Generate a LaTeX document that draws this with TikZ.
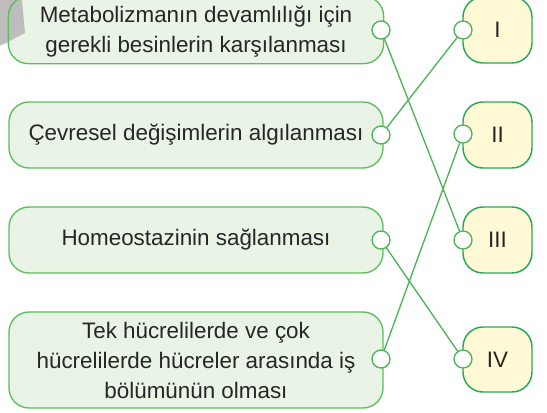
\documentclass[tikz,border=0pt]{standalone}
\usepackage{fontspec}
\setmainfont{Liberation Sans}
\definecolor{lfill}{HTML}{E9F4E7}
\definecolor{lline}{HTML}{5BBD5E}
\definecolor{rfill}{HTML}{FFF9D6}
\definecolor{rline}{HTML}{2AA85A}
\definecolor{conn}{HTML}{4DB455}
\definecolor{greyshape}{HTML}{BDBDBD}
\definecolor{ink}{HTML}{262626}
\begin{document}
\begin{tikzpicture}[x=0.75pt,y=-0.75pt,
  txt/.style={font=\fontsize{16.8}{22.5}\selectfont, text=ink},
  lbox/.style={txt, draw=lline, fill=lfill, line width=1pt, rounded corners=15pt,
    minimum width=280.5pt, minimum height=49.5pt, align=center, inner sep=0pt},
  rbox/.style={txt, draw=rline, fill=rfill, line width=1.1pt, rounded corners=15pt,
    minimum width=51.75pt, minimum height=49.5pt, inner sep=0pt},
  dot/.style={circle, draw=conn, fill=white, line width=1pt, minimum size=13.5pt, inner sep=0pt},
  link/.style={draw=conn, line width=1pt}]
\useasboundingbox (0,0) rectangle (547,412);
\clip (0,0) rectangle (547,412);
% left boxes
\node[lbox, fill=none, draw=none] (L1) at (196,30) {};
\fill[lfill, rounded corners=15pt] (L1.south west) rectangle (L1.north east);
\fill[greyshape] (0,0) -- (22,0) -- (25,33) -- (2,45) -- (0,45) -- cycle;
\draw[draw=lline, line width=1pt, rounded corners=15pt] (L1.south west) rectangle (L1.north east);
\node[txt, align=center] at ([yshift=-1.5pt]L1.center) {Metabolizmanın devamlılığı için\\gerekli besinlerin karşılanması};
\node[lbox] (L2) at (196,135) {Çevresel değişimlerin algılanması};
\node[lbox] (L3) at (196,240) {Homeostazinin sağlanması};
\node[lbox, minimum height=72pt] (L4) at (196,360) {Tek hücrelilerde ve çok\\hücrelilerde hücreler arasında iş\\bölümünün olması};
% right boxes
\node[rbox] (R1) at (497.5,30) {I};
\node[rbox] (R2) at (497.5,135) {II};
\node[rbox] (R3) at (497.5,240) {III};
\node[rbox, minimum height=48.75pt] (R4) at (497.5,359.5) {IV};
% connector dots
\node[dot] (c1) at (381,30) {};
\node[dot] (c2) at (381,135) {};
\node[dot] (c3) at (381,240) {};
\node[dot] (c4) at (381,359) {};
\node[dot] (d1) at (463,30) {};
\node[dot] (d2) at (463,134) {};
\node[dot] (d3) at (463,240) {};
\node[dot] (d4) at (463,359) {};
% connectors
\draw[link] (c1) -- (d3);
\draw[link] (c2) -- (d1);
\draw[link] (c3) -- (d4);
\draw[link] (c4) -- (d2);
\end{tikzpicture}
\end{document}
